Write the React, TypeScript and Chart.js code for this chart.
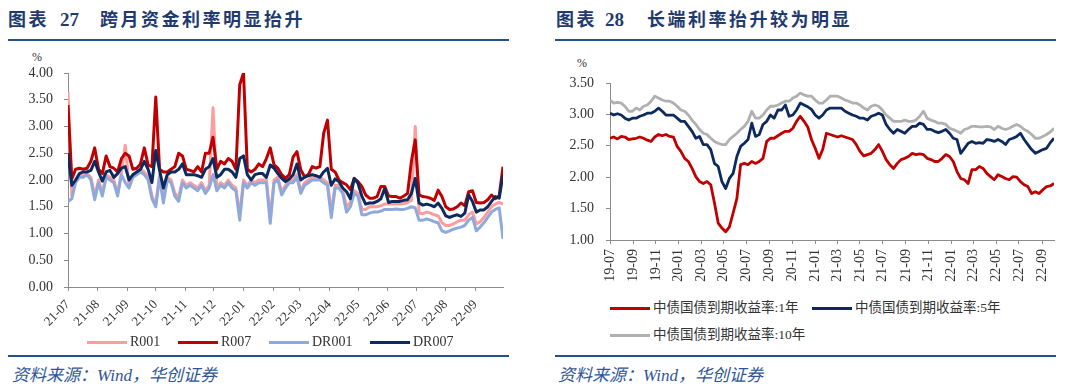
import React, { useEffect, useRef } from "react";
import { Chart, registerables } from "chart.js";
Chart.register(...registerables);

// ---------------- Left chart data (sampled every 4 days from 2021-07-01) ----------------
const LEFT_START: [number, number, number] = [2021, 7, 1];
const LEFT_STEP_DAYS = 4;
const LEFT_END_DAY = 456;
const LEFT_MONTHS = ["21-07", "21-08", "21-09", "21-10", "21-11", "21-12", "22-01", "22-02", "22-03", "22-04", "22-05", "22-06", "22-07", "22-08", "22-09"];

const R001 = [
  3.65, 1.7, 2.0, 2.08, 2.08, 2.12, 2.05, 1.7, 2.0, 1.75,
  2.1, 2.05, 2.0, 1.75, 2.15, 2.65, 1.9, 2.1, 2.12, 2.2,
  2.15, 2.05, 1.7, 1.55, 2.1, 1.62, 2.05, 2.0, 1.75, 1.68,
  2.0, 1.9, 1.95, 1.9, 1.85, 1.95, 1.8, 1.9, 3.35, 1.85,
  1.95, 1.9, 2.0, 1.9, 1.85, 1.35, 2.0, 1.9, 2.0, 1.95,
  2.0, 2.0, 2.0, 1.3, 2.0, 2.05, 1.78, 1.9, 2.0, 2.0,
  2.1, 1.8, 1.95, 2.0, 2.05, 2.05, 2.05, 2.0, 1.95, 1.4,
  1.9, 1.9, 1.8, 1.5, 1.58, 1.8, 1.75, 1.45, 1.45, 1.5,
  1.5, 1.5, 1.52, 1.55, 1.55, 1.55, 1.56, 1.55, 1.56, 1.58,
  1.62, 3.0, 1.38, 1.37, 1.4, 1.38, 1.35, 1.33, 1.2, 1.15,
  1.15, 1.18, 1.22, 1.25, 1.25, 1.35, 1.4, 1.18, 1.22, 1.3,
  1.4, 1.5, 1.55, 1.58, 1.55,
];
const R007 = [
  3.4, 2.02, 2.2, 2.22, 2.2, 2.22, 2.35, 2.6, 2.2, 2.12,
  2.45, 2.25, 2.22, 2.15, 2.4, 2.5, 2.45, 2.2, 2.22, 2.3,
  2.6, 2.28, 2.25, 3.55, 2.2, 2.15, 2.15, 2.2, 2.25, 2.5,
  2.45, 2.2, 2.18, 2.15, 2.25, 2.15, 2.5, 2.5, 2.8, 2.2,
  2.35, 2.3, 2.4, 2.35, 2.2, 3.78, 4.0, 2.2, 2.15, 2.2,
  2.3, 2.25, 2.4, 2.6, 2.28, 2.22, 2.1, 2.03, 2.1, 2.43,
  2.53, 2.19, 2.06, 2.1, 2.25, 2.22, 2.25, 2.87, 3.12, 2.2,
  2.15, 2.0, 1.95, 1.91, 1.82, 2.03, 1.97, 1.88, 1.72, 1.66,
  1.66, 1.69, 1.88, 1.88, 1.7, 1.69, 1.69, 1.66, 1.7, 1.75,
  2.35, 2.75, 1.72, 1.69, 1.68, 1.66, 1.62, 1.81, 1.69, 1.5,
  1.45, 1.46, 1.5, 1.57, 1.52, 1.78, 1.8, 1.58, 1.57, 1.58,
  1.63, 1.72, 1.65, 1.7, 2.25,
];
const DR001 = [
  1.6, 1.65, 1.95, 2.05, 2.05, 2.1, 2.0, 1.63, 1.95, 1.7,
  2.05, 2.0, 1.95, 1.7, 2.1, 1.95, 1.85, 2.05, 2.1, 2.15,
  2.1, 2.0, 1.65, 1.5, 2.05, 1.57, 2.0, 1.95, 1.7, 1.6,
  1.95, 1.85, 1.9, 1.85, 1.8, 1.9, 1.75, 1.85, 2.1, 1.8,
  1.9, 1.85, 1.95, 1.85, 1.8, 1.25, 1.95, 1.85, 1.95, 1.9,
  1.95, 1.95, 1.95, 1.19, 1.95, 2.0, 1.72, 1.85, 1.95, 1.95,
  2.05, 1.75, 1.9, 1.95, 2.0, 2.0, 2.0, 1.95, 1.9, 1.3,
  1.85, 1.85, 1.75, 1.4, 1.5, 1.75, 1.7, 1.35, 1.35, 1.38,
  1.4, 1.4, 1.42, 1.45, 1.45, 1.45, 1.46, 1.45, 1.45, 1.47,
  1.5, 1.48, 1.25, 1.25, 1.27, 1.25, 1.22, 1.2, 1.05, 1.02,
  1.05, 1.08, 1.1, 1.12, 1.15, 1.25, 1.3, 1.05, 1.12, 1.2,
  1.3, 1.4, 1.45, 1.48, 0.9,
];
const DR007 = [
  2.5, 1.9, 2.0, 2.12, 2.15, 2.15, 2.18, 2.35, 2.15, 1.98,
  2.15, 2.18, 2.05, 2.12, 2.22, 2.25, 2.0, 2.1, 2.15, 2.2,
  2.35, 2.2, 1.95, 2.55, 2.18, 1.85, 2.1, 2.15, 2.15, 2.2,
  2.3, 2.1, 2.1, 2.1, 2.08, 2.05, 2.2, 2.25, 2.4, 2.05,
  2.1, 2.2, 2.2, 2.15, 2.05, 2.4, 2.45, 2.1, 2.0, 2.1,
  2.12, 2.12, 2.05, 2.28, 2.22, 2.12, 2.03, 1.97, 2.02, 2.1,
  2.3, 2.0, 2.05, 2.08, 2.1, 2.08, 2.05, 2.15, 2.22, 1.9,
  2.02, 1.97, 1.85, 1.78, 1.65, 2.03, 1.94, 1.7, 1.55, 1.57,
  1.57, 1.6, 1.65, 1.84, 1.58, 1.6, 1.6, 1.6, 1.62, 1.63,
  1.75, 2.03, 1.57, 1.53, 1.55, 1.53, 1.5, 1.57, 1.47, 1.33,
  1.3, 1.33, 1.35, 1.32, 1.38, 1.72, 1.6, 1.4, 1.44, 1.44,
  1.5, 1.6, 1.69, 1.66, 2.1,
];

// ---------------- Right chart data (sampled every 10 days from 2019-07-01) ----------------
const RIGHT_START: [number, number, number] = [2019, 7, 1];
const RIGHT_STEP_DAYS = 10;
const RIGHT_END_DAY = 1190;
const RIGHT_MONTHS = ["19-07", "19-09", "19-11", "20-01", "20-03", "20-05", "20-07", "20-09", "20-11", "21-01", "21-03", "21-05", "21-07", "21-09", "21-11", "22-01", "22-03", "22-05", "22-07", "22-09"];

const Y1 = [
  2.62, 2.64, 2.61, 2.65, 2.64, 2.6, 2.61, 2.62, 2.64, 2.62,
  2.59, 2.57, 2.64, 2.68, 2.66, 2.68, 2.65, 2.64, 2.49, 2.41,
  2.3, 2.25, 2.14, 2.01, 1.93, 1.9, 1.93, 1.88, 1.59, 1.27,
  1.19, 1.13, 1.21, 1.43, 1.66, 2.2, 2.22, 2.2, 2.25, 2.22,
  2.25, 2.3, 2.57, 2.62, 2.62, 2.66, 2.7, 2.73, 2.73, 2.78,
  2.89, 2.97, 2.89, 2.8, 2.6, 2.46, 2.3, 2.44, 2.7, 2.68,
  2.66, 2.64, 2.66, 2.64, 2.62, 2.6, 2.52, 2.41, 2.34, 2.36,
  2.38, 2.44, 2.52, 2.41, 2.28, 2.2, 2.14, 2.22, 2.28, 2.3,
  2.33, 2.38, 2.36, 2.37, 2.36, 2.3, 2.28, 2.25, 2.25, 2.3,
  2.36, 2.33, 2.25, 2.09, 1.98, 1.96, 1.9, 2.12, 2.12, 2.17,
  2.14, 2.06, 2.01, 1.96, 2.04, 2.01, 1.98, 1.96, 2.01, 2.0,
  1.93, 1.88, 1.85, 1.74, 1.77, 1.74, 1.8, 1.85, 1.86, 1.9,
];
const Y5 = [
  3.02, 2.99, 3.01, 2.99, 2.94, 2.91, 2.94, 2.94, 2.97, 2.99,
  3.02, 3.02, 3.05, 3.1, 3.05, 2.99, 2.99, 2.99, 2.94, 2.89,
  2.89, 2.81, 2.73, 2.62, 2.65, 2.52, 2.52, 2.44, 2.22, 2.17,
  1.93, 1.82, 1.98, 2.06, 2.33, 2.49, 2.54, 2.6, 2.86, 2.65,
  2.68, 2.84, 2.89, 2.99, 2.94, 3.07, 3.07, 3.15, 2.97, 2.99,
  3.07, 3.18, 3.15, 3.12, 3.08, 2.99, 2.94, 2.99, 3.07, 3.1,
  3.1, 3.1, 3.1, 3.05, 3.02, 2.99, 2.97, 2.94, 2.94, 2.91,
  2.97, 2.99, 3.02, 2.99, 2.84, 2.76, 2.7, 2.76, 2.73, 2.7,
  2.76, 2.81, 2.81, 2.86, 2.84, 2.76, 2.76, 2.73, 2.71, 2.73,
  2.76, 2.7, 2.62, 2.6, 2.38, 2.46, 2.54, 2.57, 2.54, 2.55,
  2.54, 2.6, 2.59, 2.57, 2.6, 2.57, 2.52, 2.6, 2.62, 2.65,
  2.7, 2.6, 2.52, 2.44, 2.38, 2.41, 2.44, 2.46, 2.55, 2.62,
];
const Y10 = [
  3.23, 3.18, 3.19, 3.18, 3.13, 3.05, 3.05, 3.1, 3.07, 3.13,
  3.15, 3.21, 3.29, 3.26, 3.23, 3.21, 3.21, 3.18, 3.13, 3.07,
  3.05, 2.99, 2.91, 2.84, 2.76, 2.7, 2.68, 2.62, 2.57, 2.54,
  2.52, 2.52, 2.6, 2.65, 2.7, 2.76, 2.81, 2.89, 3.05, 2.94,
  2.94, 2.99, 3.07, 3.13, 3.13, 3.15, 3.18, 3.21, 3.21, 3.26,
  3.29, 3.34, 3.31, 3.29, 3.29, 3.23, 3.18, 3.18, 3.23, 3.29,
  3.29, 3.29, 3.26, 3.23, 3.21, 3.18, 3.18, 3.15, 3.1, 3.07,
  3.13, 3.15, 3.13, 3.07, 2.99, 2.94, 2.89, 2.89, 2.89, 2.91,
  2.89, 2.89, 2.91, 2.97, 3.05, 2.94, 2.91, 2.89, 2.86, 2.86,
  2.84, 2.78, 2.76, 2.73, 2.7, 2.76, 2.78, 2.81, 2.81, 2.8,
  2.8, 2.81, 2.8, 2.76, 2.81, 2.78, 2.76, 2.78, 2.81, 2.84,
  2.81, 2.76, 2.73, 2.68, 2.62, 2.62, 2.65, 2.68, 2.72, 2.78,
];

// ---------------- Styling ----------------
const SERIF = '"Liberation Serif", "Times New Roman", "Noto Sans CJK SC", serif';
const TITLE_COLOR = "#1F3A6E";
const RULE_COLOR = "#24508F";
const SOURCE_COLOR = "#2F5597";
const AXIS_COLOR = "#8C8C8C";
const TICK_COLOR = "#333333";
const C_PINK = "#FF9C9C";
const C_RED = "#C00000";
const C_LBLUE = "#8EAADC";
const C_NAVY = "#0D2A5E";
const C_GRAY = "#B0B0B0";

function monthOffset(label: string, start: [number, number, number]) {
  const [yy, mm] = label.split("-").map(Number);
  const t = Date.UTC(2000 + yy, mm - 1, 1) - Date.UTC(start[0], start[1] - 1, start[2]);
  return Math.round(t / 86400000);
}

function toPoints(vals: number[], step: number) {
  return vals.map((v, i) => ({ x: i * step, y: v }));
}

function lineDs(label: string, vals: number[], step: number, color: string, order: number, width: number) {
  return {
    label,
    data: toPoints(vals, step),
    borderColor: color,
    backgroundColor: color,
    borderWidth: width,
    pointRadius: 0,
    tension: 0,
    borderJoinStyle: "round" as const,
    fill: false,
    order,
  };
}

function xAxis(months: string[], start: [number, number, number], max: number, rotation: number, fontSize: number, height: number, padding: number) {
  const offsets = months.map((m) => monthOffset(m, start));
  const byOffset = new Map<number, string>();
  offsets.forEach((o, i) => byOffset.set(o, months[i]));
  return {
    type: "linear" as const,
    min: 0,
    max,
    afterBuildTicks: (s: any) => {
      s.ticks = offsets.map((v) => ({ value: v }));
    },
    afterFit: (s: any) => {
      s.height = height;
    },
    ticks: {
      autoSkip: false,
      minRotation: rotation,
      maxRotation: rotation,
      padding,
      color: TICK_COLOR,
      font: { family: SERIF, size: fontSize },
      callback: (v: any) => byOffset.get(Number(v)) ?? "",
    },
    grid: { display: true, drawOnChartArea: false, drawTicks: true, tickLength: 4, color: AXIS_COLOR, lineWidth: 1 },
    border: { display: true, color: AXIS_COLOR, width: 1 },
  };
}

function yAxis(min: number, max: number, width: number, fontSize: number, padding: number) {
  return {
    type: "linear" as const,
    min,
    max,
    afterFit: (s: any) => {
      s.width = width;
    },
    ticks: {
      stepSize: 0.5,
      padding,
      color: TICK_COLOR,
      font: { family: SERIF, size: fontSize },
      callback: (v: any) => Number(v).toFixed(2),
    },
    grid: { display: true, drawOnChartArea: false, drawTicks: true, tickLength: 4, color: AXIS_COLOR, lineWidth: 1 },
    border: { display: true, color: AXIS_COLOR, width: 1 },
  };
}

function leftConfig(): any {
  return {
    type: "line",
    data: {
      datasets: [
        lineDs("DR007", DR007, LEFT_STEP_DAYS, C_NAVY, 1, 3),
        lineDs("DR001", DR001, LEFT_STEP_DAYS, C_LBLUE, 2, 3),
        lineDs("R007", R007, LEFT_STEP_DAYS, C_RED, 3, 3),
        lineDs("R001", R001, LEFT_STEP_DAYS, C_PINK, 4, 3),
      ],
    },
    options: {
      animation: false,
      responsive: false,
      maintainAspectRatio: false,
      layout: { padding: { left: 0, right: 37, top: 28, bottom: 0 } },
      plugins: { legend: { display: false }, tooltip: { enabled: false } },
      scales: {
        x: xAxis(LEFT_MONTHS, LEFT_START, LEFT_END_DAY, 45, 13, 48, 6),
        y: yAxis(0, 4, 68, 14, 11),
      },
    },
  };
}

function rightConfig(): any {
  return {
    type: "line",
    data: {
      datasets: [
        lineDs("中债国债到期收益率:1年", Y1, RIGHT_STEP_DAYS, C_RED, 1, 2.8),
        lineDs("中债国债到期收益率:5年", Y5, RIGHT_STEP_DAYS, C_NAVY, 2, 2.8),
        lineDs("中债国债到期收益率:10年", Y10, RIGHT_STEP_DAYS, C_GRAY, 3, 2.8),
      ],
    },
    options: {
      animation: false,
      responsive: false,
      maintainAspectRatio: false,
      layout: { padding: { left: 0, right: 26, top: 38, bottom: 0 } },
      plugins: { legend: { display: false }, tooltip: { enabled: false } },
      scales: {
        x: xAxis(RIGHT_MONTHS, RIGHT_START, RIGHT_END_DAY, 90, 14, 50, 5),
        y: yAxis(1, 3.5, 70, 14, 12),
      },
    },
  };
}

const abs = (left: number, top: number, extra: React.CSSProperties = {}): React.CSSProperties => ({
  position: "absolute",
  left,
  top,
  whiteSpace: "nowrap",
  ...extra,
});

function Title({ x, num, text, numX, textX }: { x: number; num: string; text: string; numX: number; textX: number }) {
  const common: React.CSSProperties = { fontFamily: SERIF, fontWeight: 700, color: TITLE_COLOR, lineHeight: "20px" };
  return (
    <>
      <div style={abs(x, 10, { ...common, fontSize: 18, letterSpacing: 2.5 })}>图表</div>
      <div style={abs(numX, 10, { ...common, fontSize: 19 })}>{num}</div>
      <div style={abs(textX, 10, { ...common, fontSize: 18, letterSpacing: 2.5 })}>{text}</div>
    </>
  );
}

function LegendItem({ x, y, color, label, fontSize, lineW = 40 }: { x: number; y: number; color: string; label: string; fontSize: number; lineW?: number }) {
  return (
    <>
      <div style={abs(x, y - 1.5, { width: lineW, height: 3, background: color })} />
      <div style={abs(x + lineW + 3, y - 10, { fontFamily: SERIF, fontSize, lineHeight: "20px", color: TICK_COLOR })}>{label}</div>
    </>
  );
}

export default function App() {
  const leftRef = useRef<HTMLCanvasElement>(null);
  const rightRef = useRef<HTMLCanvasElement>(null);

  useEffect(() => {
    const c1 = new Chart(leftRef.current!, leftConfig());
    const c2 = new Chart(rightRef.current!, rightConfig());
    return () => {
      c1.destroy();
      c2.destroy();
    };
  }, []);

  return (
    <div style={{ position: "absolute", left: 0, top: 0, width: 1080, height: 391, background: "#fff", overflow: "hidden" }}>
      {/* Left panel */}
      <Title x={8} num="27" numX={60} text="跨月资金利率明显抬升" textX={100} />
      <div style={abs(8, 39, { width: 501, height: 2, background: RULE_COLOR })} />
      <div style={abs(32, 50, { fontFamily: SERIF, fontSize: 12, color: TICK_COLOR, lineHeight: "14px" })}>%</div>
      <canvas ref={leftRef} width={540} height={290} style={abs(0, 45, { width: 540, height: 290 })} />
      <LegendItem x={87} y={342} color={C_PINK} label="R001" fontSize={14} />
      <LegendItem x={178} y={342} color={C_RED} label="R007" fontSize={14} />
      <LegendItem x={269} y={342} color={C_LBLUE} label="DR001" fontSize={14} />
      <LegendItem x={370} y={342} color={C_NAVY} label="DR007" fontSize={14} />
      <div style={abs(8, 355, { width: 501, height: 2, background: RULE_COLOR })} />
      <div style={abs(12, 366, { fontFamily: SERIF, fontStyle: "italic", fontSize: 17, color: SOURCE_COLOR, lineHeight: "20px" })}>资料来源：Wind，华创证券</div>

      {/* Right panel */}
      <Title x={556} num="28" numX={605} text="长端利率抬升较为明显" textX={647} />
      <div style={abs(555, 39, { width: 501, height: 2, background: RULE_COLOR })} />
      <div style={abs(577, 56, { fontFamily: SERIF, fontSize: 12, color: TICK_COLOR, lineHeight: "14px" })}>%</div>
      <canvas ref={rightRef} width={540} height={245} style={abs(540, 45, { width: 540, height: 245 })} />
      <LegendItem x={610} y={308} color={C_RED} label="中债国债到期收益率:1年" fontSize={13.5} />
      <LegendItem x={812} y={308} color={C_NAVY} label="中债国债到期收益率:5年" fontSize={13.5} />
      <LegendItem x={610} y={335} color={C_GRAY} label="中债国债到期收益率:10年" fontSize={13.5} />
      <div style={abs(555, 355, { width: 501, height: 2, background: RULE_COLOR })} />
      <div style={abs(558, 366, { fontFamily: SERIF, fontStyle: "italic", fontSize: 17, color: SOURCE_COLOR, lineHeight: "20px" })}>资料来源：Wind，华创证券</div>
    </div>
  );
}
